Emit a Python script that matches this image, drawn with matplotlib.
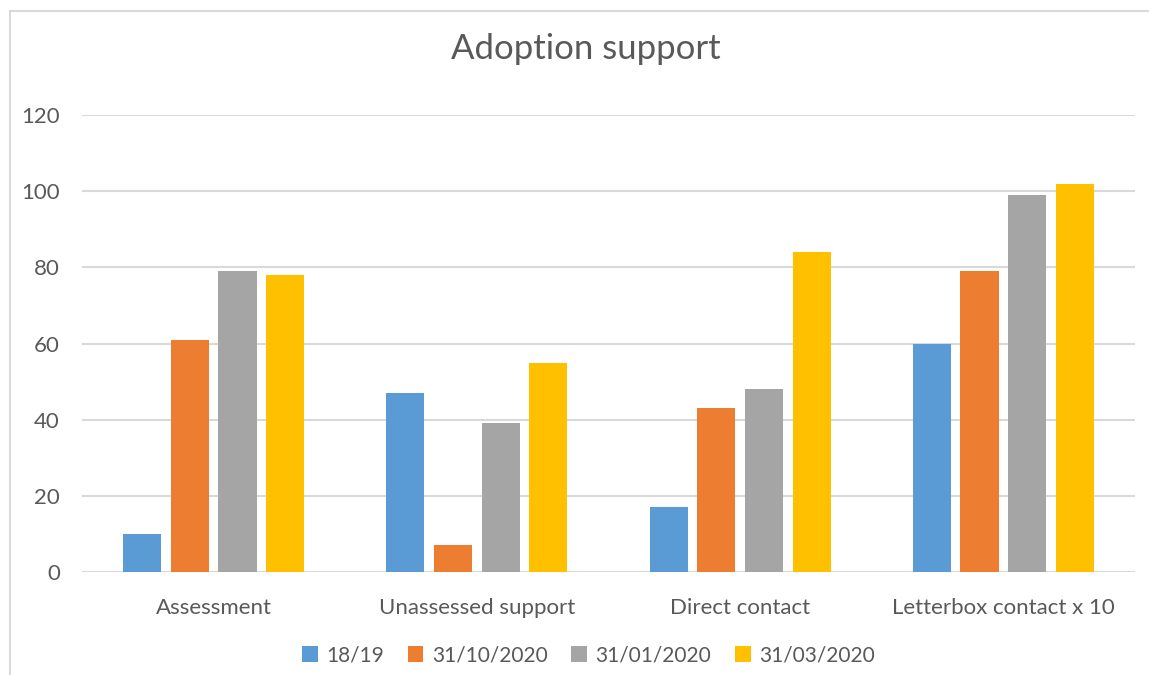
import numpy as np
import matplotlib.pyplot as plt
from matplotlib.lines import Line2D

plt.rcParams["font.family"] = ["Lato", "DejaVu Sans"]

categories = ["Assessment", "Unassessed support", "Direct contact", "Letterbox contact x 10"]
series_names = ["18/19", "31/10/2020", "31/01/2020", "31/03/2020"]
values_1819 = [10, 47, 17, 60]
values_oct = [61, 7, 43, 79]
values_jan = [79, 39, 48, 99]
values_mar = [78, 55, 84, 102]
colors = ["#5b9bd5", "#ed7d31", "#a5a5a5", "#ffc000"]

TEXT = "#595959"

fig = plt.figure(figsize=(11.49, 6.75), dpi=100)
ax = fig.add_axes([82 / 1149, 103 / 675, 1053 / 1149, 457 / 675])

x = np.arange(len(categories))
step = 0.181
width = 0.145
all_values = [values_1819, values_oct, values_jan, values_mar]
for i, (name, vals) in enumerate(zip(series_names, all_values)):
    ax.bar(x + (i - 1.5) * step, vals, width, color=colors[i], label=name, zorder=3)

ax.set_xlim(-0.5, 3.5)
ax.set_ylim(0, 120)
ax.set_yticks(range(0, 121, 20))
ax.yaxis.grid(True, color="#d9d9d9", linewidth=1.5, zorder=0)
ax.set_xticks(x)
ax.set_xticklabels(categories)
ax.tick_params(axis="both", length=0, colors=TEXT, labelsize=16)
ax.tick_params(axis="x", pad=19)
ax.tick_params(axis="y", pad=16)
for s in ax.spines.values():
    s.set_visible(False)
ax.axhline(0, color="#d9d9d9", linewidth=1.5, zorder=1)

fig.text(0.51, 0.927, "Adoption support", ha="center", va="center",
         fontsize=25, color=TEXT)

ax.legend(loc="center", bbox_to_anchor=(0.481, -0.182), ncol=4, frameon=False,
          fontsize=15, labelcolor=TEXT, handlelength=0.75, handleheight=0.75,
          handletextpad=0.4, columnspacing=1.15)

# chart border (left and top edges visible)
fig.add_artist(Line2D([10 / 1149, 10 / 1149], [0, 1 - 11 / 675],
                      transform=fig.transFigure, color="#d9d9d9", linewidth=1.5))
fig.add_artist(Line2D([10 / 1149, 1], [1 - 11 / 675, 1 - 11 / 675],
                      transform=fig.transFigure, color="#d9d9d9", linewidth=1.5))

fig.savefig("out.png", dpi=100)
